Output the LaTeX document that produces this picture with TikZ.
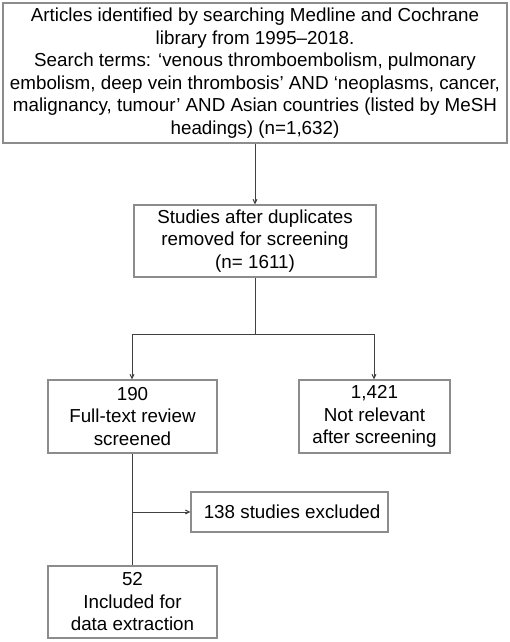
\documentclass[tikz,border=0pt]{standalone}
\usepackage{fontspec}
\setmainfont{Liberation Sans}
\usetikzlibrary{arrows.meta}
\definecolor{boxgray}{HTML}{8C8C8C}
\definecolor{linegray}{HTML}{404040}
\tikzset{
  flowbox/.style={draw=boxgray, line width=1.2pt, fill=white, align=center, inner sep=0pt,
    font=\fontsize{18.8}{22.5}\selectfont, text=black},
  conn/.style={draw=linegray, line width=1pt},
  arr/.style={conn, -{Straight Barb[length=4pt,width=4pt]}}
}
\begin{document}
\begin{tikzpicture}[x=1pt,y=-1pt]
\useasboundingbox (0,0) rectangle (510,642);
\node[flowbox, minimum width=504pt, minimum height=140pt] (top) at (255,73)
  {Articles identified by searching Medline and Cochrane\\library from 1995--2018.\\Search terms: ‘venous thromboembolism, pulmonary\\embolism, deep vein thrombosis’ AND ‘neoplasms, cancer,\\malignancy, tumour’ AND Asian countries (listed by MeSH\\headings) (n=1,632)};
\node[flowbox, minimum width=242pt, minimum height=72pt] (dup) at (255,241)
  {Studies after duplicates\\removed for screening\\(n= 1611)};
\node[flowbox, minimum width=169pt, minimum height=73pt] (full) at (132.5,416.5)
  {190\\Full-text review\\screened};
\node[flowbox, minimum width=151pt, minimum height=73pt] (notrel) at (374.5,416.5)
  {1,421\\Not relevant\\after screening};
\node[flowbox, minimum width=197pt, minimum height=40pt] (excl) at (289.5,512)
  {\ 138 studies excluded};
\node[flowbox, minimum width=169pt, minimum height=72pt] (incl) at (132.5,602)
  {52\\Included for\\data extraction};
\coordinate (split) at (255,334);
\coordinate (splitL) at (132,334);
\coordinate (splitR) at (374,334);
\coordinate (branch) at (132,512);
\draw[arr] (top.south) -- (dup.north);
\draw[conn] (dup.south) -- (split);
\draw[conn] (splitL) -- (splitR);
\draw[arr] (splitL) -- (splitL |- full.north);
\draw[arr] (splitR) -- (splitR |- notrel.north);
\draw[conn] (full.south -| branch) -- (incl.north -| branch);
\draw[arr] (branch) -- (excl.west);
\end{tikzpicture}
\end{document}
